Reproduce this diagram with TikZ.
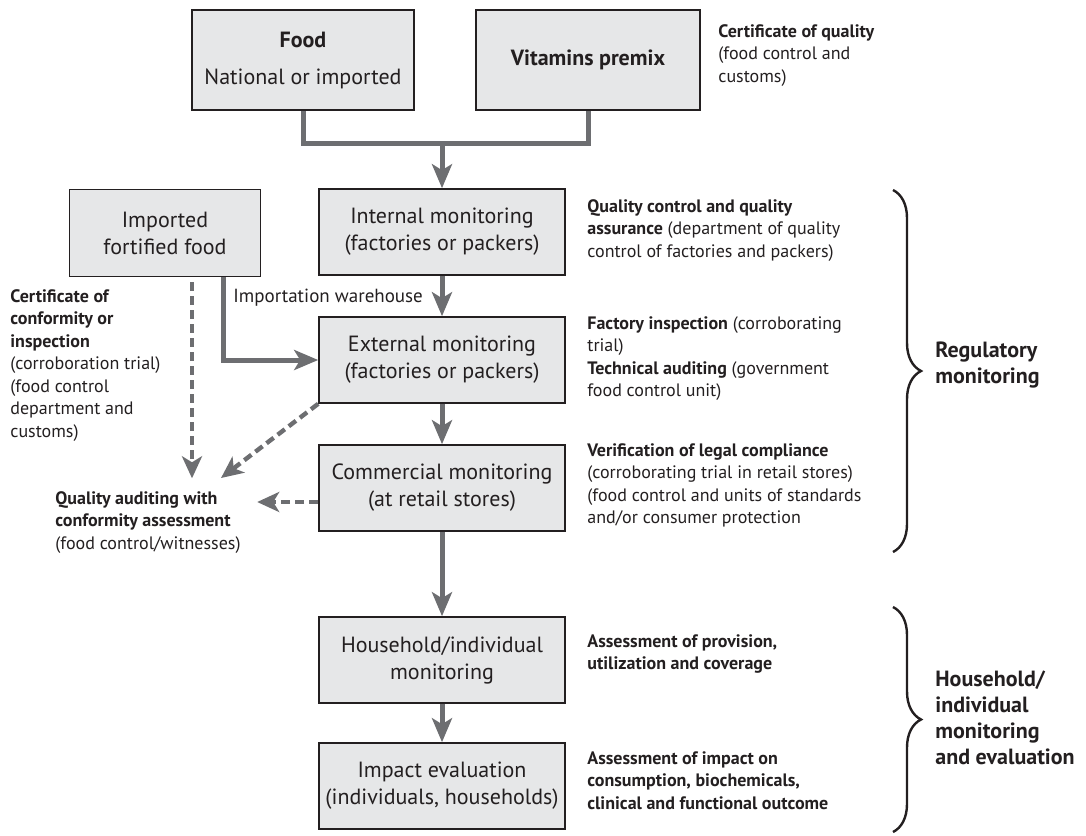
\documentclass[tikz,border=0pt]{standalone}
\usepackage{fontspec}
\setmainfont{PT Sans}
\usetikzlibrary{arrows.meta,decorations.pathreplacing}

\definecolor{boxgray}{RGB}{230,231,232}
\definecolor{arrgray}{RGB}{109,110,113}
\definecolor{ink}{RGB}{35,31,32}

\tikzset{
  box/.style={draw=ink, line width=0.8pt, fill=boxgray, align=center, inner sep=0pt,
    text=ink, font=\fontsize{11}{13.5}\selectfont},
  flow/.style={draw=arrgray, line width=2.5pt, -{Stealth[length=12pt,width=10pt,inset=3pt]}},
  dflow/.style={draw=arrgray, line width=2.2pt, dash pattern=on 4.5pt off 2.5pt,
    -{Stealth[length=11pt,width=10pt,inset=3pt]}},
  note/.style={align=left, inner sep=0pt, text=ink, font=\fontsize{9}{11.25}\selectfont},
  group/.style={align=left, inner sep=0pt, text=ink, font=\bfseries\fontsize{11}{13}\selectfont},
  grpbrace/.style={draw=ink, line width=1.2pt, decorate, decoration={brace, amplitude=14pt}}
}

\begin{document}
\begin{tikzpicture}[x=0.5pt, y=-0.5pt]
\useasboundingbox (0,0) rectangle (1086,835);

\node[box, minimum width=111pt, minimum height=50pt] (food) at (303,60) {\textbf{Food}\\[5pt]National or imported};
\node[box, minimum width=112pt, minimum height=50pt] (premix) at (588,60) {\textbf{Vitamins premix}};
\node[note, anchor=north west] (certq) at (718,24) {\textbf{Certificate of quality}\\(food control and\\customs)};

\node[box, minimum width=123pt, minimum height=43pt] (internal) at (442,232) {Internal monitoring\\(factories or packers)};
\node[box, minimum width=95.5pt, minimum height=43.5pt] (imported) at (165,233) {Imported\\fortified food};
\node[box, minimum width=123pt, minimum height=43pt] (external) at (442,360) {External monitoring\\(factories or packers)};
\node[box, minimum width=123pt, minimum height=43pt] (commercial) at (442,488) {Commercial monitoring\\(at retail stores)};
\node[box, minimum width=123pt, minimum height=43pt] (household) at (442,660) {Household/individual\\monitoring};
\node[box, minimum width=123pt, minimum height=43pt] (impact) at (442,786) {Impact evaluation\\(individuals, households)};

\node[note, anchor=west, font=\fontsize{9.5}{12}\selectfont] (warehouse) at (233,298) {Importation warehouse};
\node[note, anchor=north west] (certconf) at (10,289) {\textbf{Certificate of}\\\textbf{conformity or}\\\textbf{inspection}\\(corroboration trial)\\(food control\\department and\\customs)};
\node[note, anchor=north west] (audit) at (55,491) {\textbf{Quality auditing with}\\\textbf{conformity assessment}\\(food control/witnesses)};

\node[note, anchor=north west] (qcqa) at (587,199) {\textbf{Quality control and quality}\\\textbf{assurance} (department of quality\\control of factories and packers)};
\node[note, anchor=north west] (factinsp) at (587,316) {\textbf{Factory inspection} (corroborating\\trial)\\\textbf{Technical auditing} (government\\food control unit)};
\node[note, anchor=north west] (legal) at (587,443) {\textbf{Verification of legal compliance}\\(corroborating trial in retail stores)\\(food control and units of standards\\and/or consumer protection};
\node[note, anchor=north west] (provision) at (587,634) {\textbf{Assessment of provision,}\\\textbf{utilization and coverage}};
\node[note, anchor=north west] (impactass) at (587,751) {\textbf{Assessment of impact on}\\\textbf{consumption, biochemicals,}\\\textbf{clinical and functional outcome}};

\node[group, anchor=west] (reglabel) at (935,365) {Regulatory\\monitoring};
\node[group, anchor=west] (hhlabel) at (935,718) {Household/\\individual\\monitoring\\and evaluation};

\coordinate (join) at (442,143);
\draw[draw=arrgray, line width=2.5pt] (food.south) -- (food.south |- join) -| (premix.south);
\draw[flow] (join) -- (internal.north);
\draw[flow] (internal) -- (external);
\draw[flow] (external) -- (commercial);
\draw[flow] (commercial) -- (household);
\draw[flow] (household) -- (impact);
\draw[flow] ([xshift=29pt]imported.south) |- (external.west);

\coordinate (auditin) at (221,478);
\draw[dflow] ([xshift=13.5pt,yshift=-2.5pt]imported.south) -- ++(0,196);
\draw[dflow] (external.south west) -- (auditin);
\draw[dflow] ([yshift=-7pt]commercial.west) -- ++(-61,0);

\coordinate (regtop) at (893,190);
\coordinate (regbot) at (893,552);
\coordinate (hhtop) at (893,607);
\coordinate (hhbot) at (893,832);
\draw[grpbrace] (regtop) -- (regbot);
\draw[grpbrace] (hhtop) -- (hhbot);
\end{tikzpicture}
\end{document}
